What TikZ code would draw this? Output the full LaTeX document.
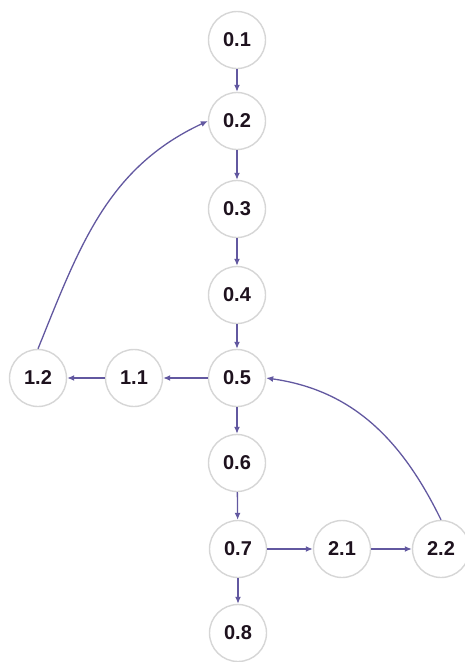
\documentclass[tikz,border=0pt]{standalone}
\usepackage{fontspec}
\setmainfont{Liberation Sans}
\usetikzlibrary{arrows.meta}
\definecolor{edgecol}{RGB}{98,88,160}
\definecolor{ringcol}{RGB}{214,214,214}
\definecolor{textcol}{RGB}{30,18,30}
\begin{document}
\begin{tikzpicture}[x=1pt,y=-1pt,
  state/.style={circle,draw=ringcol,line width=1.4pt,fill=white,minimum size=57pt,inner sep=0pt,font=\fontsize{20}{22}\selectfont\bfseries,text=textcol},
  link/.style={draw=edgecol,line width=1.3pt,-{Latex[length=7pt,width=6pt]}}]
\useasboundingbox (0,0) rectangle (464,662);
\node[state] (n01) at (237,40) {0.1};
\node[state] (n02) at (237,121) {0.2};
\node[state] (n03) at (237,209) {0.3};
\node[state] (n04) at (237,295) {0.4};
\node[state] (n05) at (237,378) {0.5};
\node[state] (n06) at (237,463) {0.6};
\node[state] (n07) at (238,549) {0.7};
\node[state] (n08) at (238,633) {0.8};
\node[state] (n11) at (134,378) {1.1};
\node[state] (n12) at (38,378) {1.2};
\node[state] (n21) at (342,549) {2.1};
\node[state] (n22) at (441,549) {2.2};
\draw[link] (n01) -- (n02);
\draw[link] (n02) -- (n03);
\draw[link] (n03) -- (n04);
\draw[link] (n04) -- (n05);
\draw[link] (n05) -- (n06);
\draw[link] (n06) -- (n07);
\draw[link] (n07) -- (n08);
\draw[link] (n05) -- (n11);
\draw[link] (n11) -- (n12);
\draw[link] (n07) -- (n21);
\draw[link] (n21) -- (n22);
\draw[link] (n12.north) to[out=68,in=205] (n02.west);
\draw[link] (n22.north) to[out=116,in=-8] (n05.east);
\end{tikzpicture}
\end{document}
